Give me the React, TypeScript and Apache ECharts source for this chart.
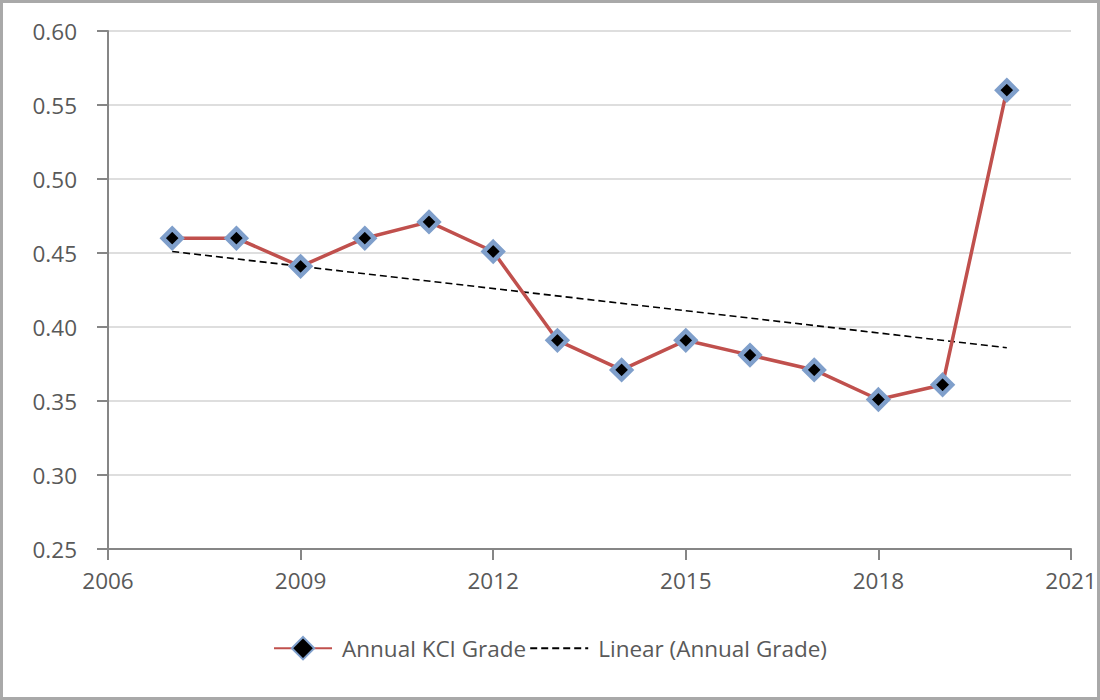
import React, { useEffect, useRef } from "react";
import * as echarts from "echarts";

const years = [2007, 2008, 2009, 2010, 2011, 2012, 2013, 2014, 2015, 2016, 2017, 2018, 2019, 2020];
const grades = [0.46, 0.46, 0.441, 0.46, 0.471, 0.451, 0.391, 0.371, 0.391, 0.381, 0.371, 0.351, 0.361, 0.56];
const trendYears = [2007, 2020];
const trendValues = [0.451, 0.386];
const xMin = 2006;
const xMax = 2021;
const xStep = 3;
const yMin = 0.25;
const yMax = 0.6;
const yStep = 0.05;
const seriesName = "Annual KCI Grade";
const trendName = "Linear (Annual Grade)";

export default function App() {
  const ref = useRef<HTMLDivElement>(null);
  useEffect(() => {
    if (!ref.current) return;
    const chart = echarts.init(ref.current, null, { renderer: "svg" });
    const font = "'Open Sans', sans-serif";
    const axisColor = "#868686";
    const textColor = "#595959";
    const fs = 22.5;
    chart.setOption({
      animation: false,
      backgroundColor: "#ffffff",
      textStyle: { fontFamily: font },
      graphic: [
        {
          type: "rect",
          shape: { x: 1.5, y: 1.5, width: 1097, height: 697 },
          style: { fill: "none", stroke: "#a9a9a9", lineWidth: 3 },
          silent: true,
        },
      ],
      grid: { left: 108, right: 29, top: 31, bottom: 151, containLabel: false },
      xAxis: {
        type: "value",
        min: 0,
        max: xMax - xMin,
        interval: xStep,
        axisLine: { show: true, onZero: false, lineStyle: { color: axisColor, width: 2 } },
        axisTick: { show: true, length: 11, lineStyle: { color: axisColor, width: 2 } },
        splitLine: { show: false },
        axisLabel: {
          color: textColor,
          fontSize: fs,
          fontFamily: font,
          margin: 20,
          formatter: (v: number) => String(v + xMin),
        },
      },
      yAxis: {
        type: "value",
        min: yMin,
        max: yMax,
        interval: yStep,
        axisLine: { show: true, lineStyle: { color: axisColor, width: 2 } },
        axisTick: { show: true, length: 11, lineStyle: { color: axisColor, width: 2 } },
        splitLine: { show: true, lineStyle: { color: "#dedede", width: 2 } },
        axisLabel: {
          color: textColor,
          fontSize: fs,
          fontFamily: font,
          margin: 31,
          formatter: (v: number) => v.toFixed(2),
        },
      },
      legend: {
        left: "center",
        top: 631,
        itemWidth: 58,
        itemHeight: 28,
        itemGap: 3,
        textStyle: { color: textColor, fontSize: fs, fontFamily: font, padding: [0, 0, 0, 5] },
        data: [
          seriesName,
          { name: trendName, itemStyle: { color: "rgba(0,0,0,0)", borderWidth: 0, opacity: 0 } },
        ],
      },
      series: [
        {
          name: trendName,
          type: "line",
          data: trendYears.map((y, i) => [y - xMin, trendValues[i]]),
          symbol: "none",
          lineStyle: { color: "#000000", width: 1.6, type: [7, 4] },
          itemStyle: { color: "#000000" },
          z: 3,
        },
        {
          name: seriesName,
          type: "line",
          data: years.map((y, i) => [y - xMin, grades[i]]),
          symbol: "diamond",
          symbolSize: 19,
          lineStyle: { color: "#c0504d", width: 3.5 },
          itemStyle: { color: "#000000", borderColor: "#7f9fcb", borderWidth: 4.5 },
          z: 4,
        },
      ],
    });
    return () => chart.dispose();
  }, []);
  return (
    <div
      ref={ref}
      style={{ position: "absolute", left: 0, top: 0, width: 1100, height: 700 }}
    />
  );
}
